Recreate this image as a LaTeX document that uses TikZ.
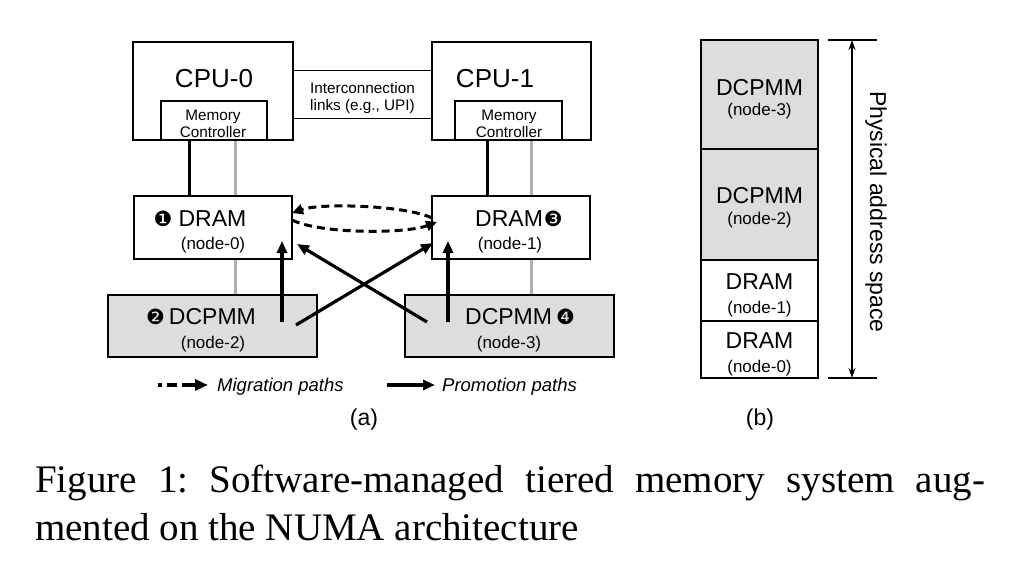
\documentclass[tikz,border=0pt]{standalone}
\usepackage{fontspec}
\setmainfont{Liberation Sans}
\newfontfamily\capserif{Liberation Serif}
\newfontfamily\dvsans{DejaVu Sans}
\usetikzlibrary{arrows.meta,calc}
\newcommand{\szcpu}{\fontsize{26}{30}\selectfont}
\newcommand{\szmain}{\fontsize{23}{27}\selectfont}
\newcommand{\szsub}{\fontsize{17}{20}\selectfont}
\newcommand{\szmc}{\fontsize{15.3}{18}\selectfont}
\newcommand{\szleg}{\fontsize{18.5}{22}\selectfont\itshape}
\newcommand{\szcap}{\fontsize{39}{43}\selectfont\capserif\frenchspacing}
\newcommand{\circnum}[1]{{\dvsans\fontsize{21}{21}\selectfont #1}}
\definecolor{boxgray}{RGB}{221,221,221}
\definecolor{linegray}{RGB}{175,175,175}
\begin{document}
\begin{tikzpicture}[x=1pt,y=-1pt,
  frame/.style={draw=black, line width=1.4pt, inner sep=0pt},
  pmbox/.style={frame, fill=boxgray},
  lbl/.style={inner sep=0pt, anchor=base},
  blackline/.style={line width=3pt, black},
  grayline/.style={line width=3pt, linegray},
  promo/.style={line width=3.2pt, -{Triangle[length=12pt,width=10pt]}},
  migr/.style={line width=3pt, dash pattern=on 8pt off 5pt, -{Triangle[length=11pt,width=10pt]}},
  thinarrow/.style={line width=1.3pt, {Stealth[length=10pt,width=7pt]}-{Stealth[length=10pt,width=7pt]}},
  tick/.style={line width=1.5pt}
]
\useasboundingbox (0,0) rectangle (1018,562);

% ---------- (a) boxes ----------
\node[frame, minimum width=160, minimum height=98] (cpu0) at (213,91) {};
\node[frame, minimum width=159, minimum height=98] (cpu1) at (511.5,91) {};
\node[frame, minimum width=106, minimum height=39] (mc0) at (214,120.5) {};
\node[frame, minimum width=107, minimum height=39] (mc1) at (508.5,120.5) {};
\node[frame, minimum width=158, minimum height=63] (dram0) at (213,227.5) {};
\node[frame, minimum width=158, minimum height=63] (dram1) at (511,227.5) {};
\node[pmbox, minimum width=209, minimum height=62] (pm2) at (212.5,326) {};
\node[pmbox, minimum width=209, minimum height=62] (pm3) at (509.5,326) {};

% interconnection links
\draw[line width=1.4pt] ($(cpu0.north east)+(0,29)$) -- ($(cpu1.north west)+(0,29)$);
\draw[line width=1.4pt] ($(cpu0.north east)+(0,77)$) -- ($(cpu1.north west)+(0,77)$);

% texts
\node[lbl, font=\szcpu] (tcpu0) at (214,87) {CPU-0};
\node[lbl, font=\szcpu] (tcpu1) at (495,87) {CPU-1};
\node[lbl, font=\szmc] (tmc0a) at (213,120) {Memory};
\node[lbl, font=\szmc] (tmc0b) at (213,137.5) {Controller};
\node[lbl, font=\szmc] (tmc1a) at (509,120) {Memory};
\node[lbl, font=\szmc] (tmc1b) at (509,137.5) {Controller};
\node[lbl, font=\szmc] (tlink1) at (362.5,93) {Interconnection};
\node[lbl, font=\szmc] (tlink2) at (362.5,110) {links (e.g., UPI)};

\node[lbl, font=\szmain] (td0) at (200,226) {\circnum{❶}\hspace{6pt}DRAM};
\node[lbl, font=\szsub] (td0s) at (213,249) {(node-0)};
\node[lbl, font=\szmain] (td1) at (519,226) {DRAM\hspace{1pt}\circnum{❸}};
\node[lbl, font=\szsub] (td1s) at (510,249) {(node-1)};
\node[lbl, font=\szmain] (tp2) at (201,324) {\circnum{❷}\hspace{4pt}DCPMM};
\node[lbl, font=\szsub] (tp2s) at (213,348) {(node-2)};
\node[lbl, font=\szmain] (tp3) at (520,324) {DCPMM\hspace{4pt}\circnum{❹}};
\node[lbl, font=\szsub] (tp3s) at (509,348) {(node-3)};

% controller to memory lines
\coordinate (bx0) at (189,0);
\coordinate (gx0) at (235,0);
\coordinate (bx1) at (487,0);
\coordinate (gx1) at (531,0);
\draw[grayline] (gx0 |- mc0.south) -- (gx0 |- dram0.north);
\draw[grayline] (gx0 |- dram0.south) -- (gx0 |- pm2.north);
\draw[grayline] (gx1 |- mc1.south) -- (gx1 |- dram1.north);
\draw[grayline] (gx1 |- dram1.south) -- (gx1 |- pm3.north);
\draw[blackline] (bx0 |- mc0.south) -- (bx0 |- dram0.north);
\draw[blackline] (bx1 |- mc1.south) -- (bx1 |- dram1.north);

% promotion paths
\coordinate (p2a) at (282,322);
\coordinate (p0a) at (282,241);
\coordinate (p3a) at (448,322);
\coordinate (p1a) at (448,241);
\coordinate (p2b) at (296,325);
\coordinate (p1b) at (433,243);
\coordinate (p3b) at (427,322);
\coordinate (p0b) at (297,244);
\draw[promo] (p2a) -- (p0a);
\draw[promo] (p3a) -- (p1a);
\draw[promo] (p2b) -- (p1b);
\draw[promo] (p3b) -- (p0b);

% migration paths
\coordinate (m1s) at (432,218);
\coordinate (m1e) at (292,213);
\coordinate (m2s) at (292,220);
\coordinate (m2e) at (437,222);
\draw[migr] (m1s) .. controls (405,205) and (320,203) .. (m1e);
\draw[migr] (m2s) .. controls (320,234) and (405,234) .. (m2e);

% legend
\coordinate (l1s) at (158,385);
\coordinate (l1e) at (208,385);
\coordinate (l2s) at (387,385);
\coordinate (l2e) at (435,385);
\draw[line width=3.4pt, dash pattern=on 4pt off 5pt on 10pt off 5pt on 30pt, -{Triangle[length=13pt,width=11pt]}] (l1s) -- (l1e);
\draw[promo] (l2s) -- (l2e);
\node[inner sep=0pt, anchor=base west, font=\szleg] (tl1) at (217,391) {Migration paths};
\node[inner sep=0pt, anchor=base west, font=\szleg] (tl2) at (442,391) {Promotion paths};
\node[lbl, font=\szmain] (ta) at (364,425) {(a)};

% ---------- (b) address space ----------
\node[pmbox, minimum width=117, minimum height=109] (b3) at (759.5,94.5) {};
\node[pmbox, minimum width=117, minimum height=111] (b2) at (759.5,204.5) {};
\node[frame, minimum width=117, minimum height=61] (b1) at (759.5,290.5) {};
\node[frame, minimum width=117, minimum height=57] (b0) at (759.5,349.5) {};

\node[lbl, font=\szmain] (tb3) at (759.5,95) {DCPMM};
\node[lbl, font=\szsub] (tb3s) at (759.5,115) {(node-3)};
\node[lbl, font=\szmain] (tb2) at (759.5,203) {DCPMM};
\node[lbl, font=\szsub] (tb2s) at (759.5,224) {(node-2)};
\node[lbl, font=\szmain] (tb1) at (759.5,289) {DRAM};
\node[lbl, font=\szsub] (tb1s) at (759.5,313) {(node-1)};
\node[lbl, font=\szmain] (tb0) at (759.5,348) {DRAM};
\node[lbl, font=\szsub] (tb0s) at (759.5,372) {(node-0)};

\coordinate (tk1a) at (828,40);
\coordinate (tk1b) at (877,40);
\coordinate (tk2a) at (828,378);
\coordinate (tk2b) at (877,378);
\draw[tick] (tk1a) -- (tk1b);
\draw[tick] (tk2a) -- (tk2b);
\coordinate (arT) at (852,40);
\coordinate (arB) at (852,378);
\draw[thinarrow] (arT) -- (arB);
\node[inner sep=0pt, rotate=-90, font=\szmain] (tphys) at (876,212) {Physical address space};
\node[lbl, font=\szmain] (tb) at (760,425) {(b)};

% ---------- caption ----------
\node[inner sep=0pt, anchor=base west, font=\szcap] (cap1) at (35,492)
  {\makebox[950pt][s]{Figure 1: Software-managed tiered memory system aug-}};
\node[inner sep=0pt, anchor=base west, font=\szcap] (cap2) at (35,540)
  {mented on the NUMA architecture};
\end{tikzpicture}
\end{document}
